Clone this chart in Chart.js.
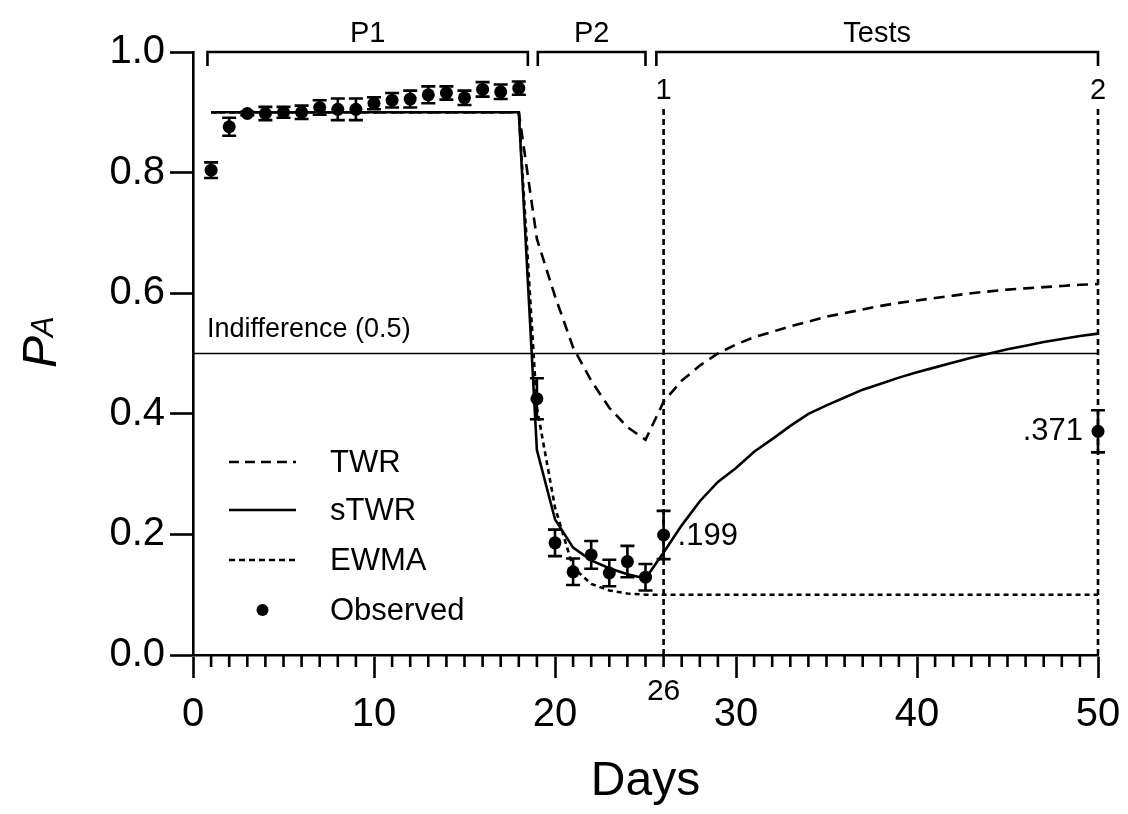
<!DOCTYPE html>
<html>
<head>
<meta charset="utf-8">
<script src="https://cdn.jsdelivr.net/npm/chart.js@4.4.0/dist/chart.umd.min.js"></script>
<style>
  html, body { margin: 0; padding: 0; background: #fff; }
  canvas { display: block; }
</style>
</head>
<body>
<canvas id="chart" width="1128" height="814"></canvas>
<script>
// P_A across days: observed means, model predictions, phase brackets

const FONT = "'Liberation Sans', Arial, Helvetica, sans-serif";

// Observed (mean and half-width of error bar)
const obsDays = [1, 2, 3, 4, 5, 6, 7, 8, 9, 10, 11, 12, 13, 14, 15, 16, 17, 18,
                 19, 20, 21, 22, 23, 24, 25, 26, 50];
const obsMean = [0.804, 0.876, 0.898, 0.898, 0.900, 0.900, 0.908, 0.905, 0.905, 0.915,
                 0.920, 0.922, 0.929, 0.932, 0.924, 0.938, 0.934, 0.940,
                 0.425, 0.186, 0.138, 0.166, 0.136, 0.155, 0.129, 0.199, 0.371];
const obsErr  = [0.013, 0.015, 0.003, 0.011, 0.009, 0.011, 0.012, 0.018, 0.018, 0.010,
                 0.012, 0.014, 0.014, 0.011, 0.012, 0.012, 0.012, 0.011,
                 0.034, 0.022, 0.022, 0.023, 0.022, 0.026, 0.022, 0.040, 0.035];

// TWR model
const twrDays = [1, 18, 19, 20, 21, 22, 23, 24, 25, 26, 27, 28, 29, 30, 31, 32, 33, 34, 35,
                 36, 37, 38, 39, 40, 41, 42, 43, 44, 45, 46, 47, 48, 49, 50];
const twrVals = [0.900, 0.900, 0.690, 0.595, 0.510, 0.455, 0.410, 0.378, 0.357,
                 0.420, 0.455, 0.480, 0.500, 0.515, 0.527, 0.536, 0.545, 0.553, 0.561,
                 0.567, 0.573, 0.579, 0.584, 0.588, 0.592, 0.596, 0.600, 0.603, 0.606,
                 0.608, 0.610, 0.612, 0.614, 0.615];

// sTWR model
const stwrDays = twrDays;
const stwrVals = [0.900, 0.900, 0.340, 0.225, 0.178, 0.157, 0.144, 0.134, 0.127,
                  0.170, 0.215, 0.255, 0.287, 0.310, 0.337, 0.358, 0.380, 0.400, 0.414,
                  0.427, 0.440, 0.450, 0.460, 0.469, 0.477, 0.485, 0.493, 0.500, 0.507,
                  0.513, 0.519, 0.524, 0.529, 0.533];

// EWMA model
const ewmaDays = [1, 18, 19, 20, 21, 22, 23, 24, 25, 50];
const ewmaVals = [0.900, 0.900, 0.410, 0.245, 0.145, 0.118, 0.107, 0.102, 0.100, 0.100];

// Reference lines
const indifference = 0.5;
const testDays = [26, 50];
const testLabels = ['1', '2'];
const testLineTop = 0.91;

// Phase brackets above the plot (in days)
const phaseLabels = ['P1', 'P2', 'Tests'];
const phaseStart = [0.8, 19.05, 25.6];
const phaseEnd = [18.5, 25.0, 50];

const pts = (xs, ys) => xs.map((x, i) => ({ x: x, y: ys[i] }));

const lineDataset = (label, data, dash, width) => ({
  type: 'line',
  label: label,
  data: data,
  borderColor: '#000',
  borderWidth: width || 2.6,
  borderDash: dash || [],
  pointRadius: 0,
  tension: 0,
  fill: false,
  clip: false
});

// error bars for the observed points
const errorBars = {
  id: 'errorBars',
  afterDatasetsDraw(chart) {
    const ctx = chart.ctx;
    const x = chart.scales.x, y = chart.scales.y;
    ctx.save();
    ctx.strokeStyle = '#000';
    ctx.lineWidth = 2.6;
    obsDays.forEach((d, i) => {
      const px = x.getPixelForValue(d);
      const top = y.getPixelForValue(obsMean[i] + obsErr[i]);
      const bot = y.getPixelForValue(obsMean[i] - obsErr[i]);
      ctx.beginPath();
      ctx.moveTo(px, top); ctx.lineTo(px, bot);
      ctx.moveTo(px - 7, top); ctx.lineTo(px + 7, top);
      ctx.moveTo(px - 7, bot); ctx.lineTo(px + 7, bot);
      ctx.stroke();
    });
    ctx.restore();
  }
};

// brackets, labels, legend, minor ticks, axis titles
const decorations = {
  id: 'decorations',
  afterDraw(chart) {
    const ctx = chart.ctx;
    const x = chart.scales.x, y = chart.scales.y;
    const area = chart.chartArea;
    ctx.save();
    ctx.strokeStyle = '#000';
    ctx.fillStyle = '#000';
    ctx.lineWidth = 2.6;
    ctx.setLineDash([]);

    // minor ticks on the x axis
    ctx.beginPath();
    for (let d = 1; d < 50; d++) {
      if (d % 10 === 0) continue;
      const px = x.getPixelForValue(d);
      ctx.moveTo(px, area.bottom);
      ctx.lineTo(px, area.bottom + 12);
    }
    ctx.stroke();

    // special tick label for day 26
    ctx.font = '30px ' + FONT;
    ctx.textAlign = 'center';
    ctx.textBaseline = 'middle';
    ctx.fillText('26', x.getPixelForValue(26), 692);

    // phase brackets
    ctx.lineCap = 'butt';
    phaseLabels.forEach((lab, i) => {
      const x0 = x.getPixelForValue(phaseStart[i]);
      const x1 = x.getPixelForValue(phaseEnd[i]);
      ctx.beginPath();
      ctx.moveTo(x0, area.top + 14);
      ctx.lineTo(x0, area.top);
      ctx.lineTo(x1, area.top);
      ctx.lineTo(x1, area.top + 14);
      ctx.stroke();
      ctx.font = '29px ' + FONT;
      ctx.textBaseline = 'alphabetic';
      ctx.fillText(lab, (x0 + x1) / 2, 42);
    });

    // test numbers
    ctx.font = '29px ' + FONT;
    testDays.forEach((d, i) => {
      ctx.fillText(testLabels[i], x.getPixelForValue(d), 99);
    });

    // value annotations
    ctx.font = '31px ' + FONT;
    ctx.textBaseline = 'middle';
    ctx.textAlign = 'left';
    ctx.fillText('.' + obsMean[25].toFixed(3).slice(2), x.getPixelForValue(26) + 14, y.getPixelForValue(0.196));
    ctx.textAlign = 'right';
    ctx.fillText('.' + obsMean[26].toFixed(3).slice(2), x.getPixelForValue(50) - 15, y.getPixelForValue(obsMean[26]));

    // indifference label
    ctx.font = '27px ' + FONT;
    ctx.textAlign = 'left';
    ctx.textBaseline = 'alphabetic';
    ctx.fillText('Indifference (0.5)', 207, 337);

    // legend
    const lx0 = 229, lx1 = 296, tx = 330;
    const rows = [
      { label: 'TWR', dash: [10, 6], y: 462 },
      { label: 'sTWR', dash: [], y: 510 },
      { label: 'EWMA', dash: [6, 4], y: 560 },
      { label: 'Observed', dot: true, y: 610 }
    ];
    ctx.font = '31px ' + FONT;
    ctx.textBaseline = 'middle';
    rows.forEach(r => {
      if (r.dot) {
        ctx.beginPath();
        ctx.arc((lx0 + lx1) / 2, r.y, 6, 0, Math.PI * 2);
        ctx.fill();
      } else {
        ctx.setLineDash(r.dash);
        ctx.beginPath();
        ctx.moveTo(lx0, r.y);
        ctx.lineTo(lx1, r.y);
        ctx.stroke();
        ctx.setLineDash([]);
      }
      ctx.textAlign = 'left';
      ctx.fillText(r.label, tx, r.y + 1);
    });

    // x axis title
    ctx.font = '48px ' + FONT;
    ctx.textAlign = 'center';
    ctx.textBaseline = 'alphabetic';
    ctx.fillText('Days', (area.left + area.right) / 2, 795);

    // y axis title P_A (rotated)
    ctx.translate(56, 338);
    ctx.rotate(-Math.PI / 2);
    ctx.textAlign = 'left';
    ctx.font = 'italic 48px ' + FONT;
    const wP = ctx.measureText('P').width;
    ctx.fillText('P', -30, 0);
    ctx.font = 'italic 31px ' + FONT;
    ctx.fillText('A', -30 + wP - 1, -3);

    ctx.restore();
  }
};

new Chart(document.getElementById('chart'), {
  type: 'scatter',
  data: {
    datasets: [
      {
        label: 'Observed',
        data: pts(obsDays, obsMean),
        pointRadius: 6.5,
        pointBackgroundColor: '#000',
        pointBorderWidth: 0,
        clip: false
      },
      lineDataset('sTWR', pts(stwrDays, stwrVals), []),
      lineDataset('TWR', pts(twrDays, twrVals), [11, 7]),
      lineDataset('EWMA', pts(ewmaDays, ewmaVals), [5, 4]),
      lineDataset('Test 1', [{ x: testDays[0], y: 0 }, { x: testDays[0], y: testLineTop }], [6, 4]),
      lineDataset('Test 2', [{ x: testDays[1], y: 0 }, { x: testDays[1], y: testLineTop }], [6, 4]),
      lineDataset('Indifference', [{ x: 0, y: indifference }, { x: 50, y: indifference }], [], 1.3)
    ]
  },
  options: {
    responsive: false,
    animation: false,
    devicePixelRatio: 1,
    layout: { padding: { top: 52, right: 30, left: 0, bottom: 0 } },
    plugins: {
      legend: { display: false },
      tooltip: { enabled: false }
    },
    scales: {
      x: {
        type: 'linear',
        min: 0,
        max: 50,
        afterFit: s => { s.height = 159; s.paddingRight = 0; s.paddingLeft = 0; },
        ticks: {
          stepSize: 10,
          autoSkip: false,
          maxRotation: 0,
          padding: 13,
          color: '#000',
          font: { family: FONT, size: 40 }
        },
        grid: { drawOnChartArea: false, tickLength: 23, tickWidth: 2.6, tickColor: '#000' },
        border: { color: '#000', width: 2.6 }
      },
      y: {
        min: 0,
        max: 1,
        afterFit: s => { s.width = 193; s.paddingTop = 0; s.paddingBottom = 0; },
        ticks: {
          stepSize: 0.2,
          padding: 5,
          color: '#000',
          font: { family: FONT, size: 40 },
          callback: v => v.toFixed(1)
        },
        grid: { drawOnChartArea: false, tickLength: 23, tickWidth: 2.6, tickColor: '#000' },
        border: { color: '#000', width: 2.6 }
      }
    }
  },
  plugins: [errorBars, decorations]
});
</script>
</body>
</html>
